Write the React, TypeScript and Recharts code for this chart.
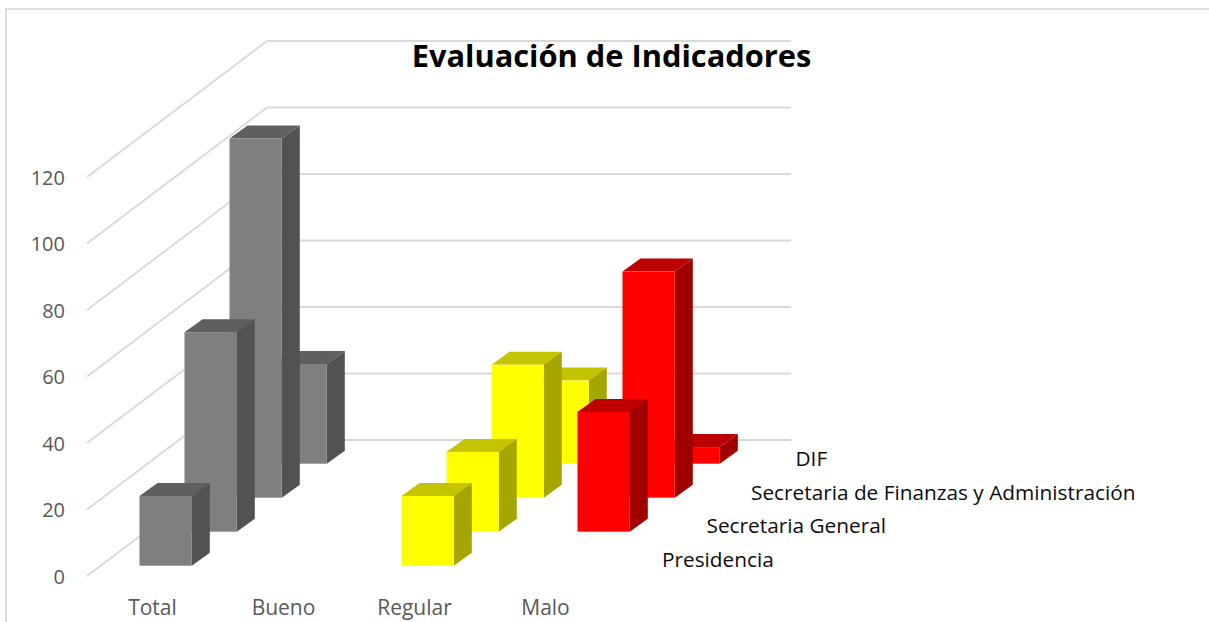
import { BarChart, Bar, XAxis, YAxis, ReferenceLine } from 'recharts'

const categories = ['Total', 'Bueno', 'Regular', 'Malo']
const presidencia = [21, 0, 21, 0]
const secretariaGeneral = [60, 0, 24, 36]
const secretariaFinanzas = [108, 0, 40, 68]
const dif = [30, 0, 25, 5]
const yTicks = [0, 20, 40, 60, 80, 100, 120]

const rowNames = [
  'Presidencia',
  'Secretaria General',
  'Secretaria de Finanzas y Administración',
  'DIF',
]

const chartData = categories.map((name, i) => ({
  name,
  presidencia: presidencia[i],
  secretariaGeneral: secretariaGeneral[i],
  secretariaFinanzas: secretariaFinanzas[i],
  dif: dif[i],
}))

// front, side, top per category
const palette = [
  ['#7f7f7f', '#525252', '#5f5f5f'],
  ['#7f7f7f', '#525252', '#5f5f5f'],
  ['#ffff00', '#a6a600', '#c4c400'],
  ['#ff0000', '#a00000', '#bd0000'],
]

const FONT = '"Open Sans", sans-serif'
const ROW_DX = 45
const ROW_DY = -34
const BAR_DX = 18
const BAR_DY = -13

// oblique projection: every depth row slides up and to the right
function barShape(row: number) {
  return function Bar3D(props: any) {
    const { x, y, width, height, index } = props
    if (!height) return <g />
    const [front, side, top] = palette[index]
    const left = x + 13.5 + row * ROW_DX
    const right = left + width
    const ty = y - 10.3 + row * ROW_DY
    const by = ty + height
    return (
      <g>
        <polygon
          points={`${left},${ty} ${right},${ty} ${right + BAR_DX},${ty + BAR_DY} ${left + BAR_DX},${ty + BAR_DY}`}
          fill={top}
        />
        <polygon
          points={`${right},${ty} ${right + BAR_DX},${ty + BAR_DY} ${right + BAR_DX},${by + BAR_DY} ${right},${by}`}
          fill={side}
        />
        <rect x={left} y={ty} width={width} height={height} fill={front} />
      </g>
    )
  }
}

function WallLine(props: any) {
  const { x1, x2, y1 } = props
  const depthX = ROW_DX * 4
  const depthY = ROW_DY * 4
  return (
    <polyline
      points={`${x1},${y1} ${x1 + depthX},${y1 + depthY} ${x2 + depthX},${y1 + depthY}`}
      fill="none"
      stroke="#d9d9d9"
      strokeWidth={1.8}
    />
  )
}

function RowLabels(props: any) {
  const { x2, y1 } = props
  return (
    <g>
      {rowNames.map((name, r) => (
        <text
          key={name}
          x={x2 + 51 + r * 44.5}
          y={y1 - 9 + r * -33.7}
          fontFamily={FONT}
          fontSize={20.8}
          fill="#0d0d0d"
        >
          {name}
        </text>
      ))}
    </g>
  )
}

export default function App() {
  return (
    <div style={{ position: 'absolute', left: 0, top: 0, width: 1209, height: 622, background: '#fff', overflow: 'hidden' }}>
      <div
        style={{
          position: 'absolute',
          left: 5,
          top: 8,
          right: -4,
          bottom: -4,
          border: '2px solid #dedede',
        }}
      />
      <div style={{ position: 'absolute', left: 0, top: 0 }}>
        <BarChart
          width={1209}
          height={622}
          data={chartData}
          margin={{ top: 177, right: 598, bottom: 16, left: 27 }}
          barSize={52.3}
          barGap={-52.3}
        >
          {yTicks.map((v) => (
            <ReferenceLine key={v} y={v} shape={WallLine} zIndex={-100} />
          ))}
          <ReferenceLine y={0} shape={RowLabels} />
          <XAxis
            dataKey="name"
            axisLine={false}
            tickLine={false}
            height={30}
            tickMargin={18}
            tick={{ fill: '#595959', fontSize: 21, fontFamily: FONT }}
          />
          <YAxis
            width={60}
            domain={[0, 120]}
            ticks={yTicks}
            axisLine={false}
            tickLine={false}
            tickMargin={16}
            tick={{ fill: '#595959', fontSize: 20, fontFamily: FONT, dy: 0.5 }}
          />
          <Bar dataKey="dif" shape={barShape(3)} isAnimationActive={false} />
          <Bar dataKey="secretariaFinanzas" shape={barShape(2)} isAnimationActive={false} />
          <Bar dataKey="secretariaGeneral" shape={barShape(1)} isAnimationActive={false} />
          <Bar dataKey="presidencia" shape={barShape(0)} isAnimationActive={false} />
          <text x={611.5} y={67} textAnchor="middle" fontFamily={FONT} fontSize={30.8} fontWeight={700} fill="#000">
            Evaluación de Indicadores
          </text>
        </BarChart>
      </div>
    </div>
  )
}
